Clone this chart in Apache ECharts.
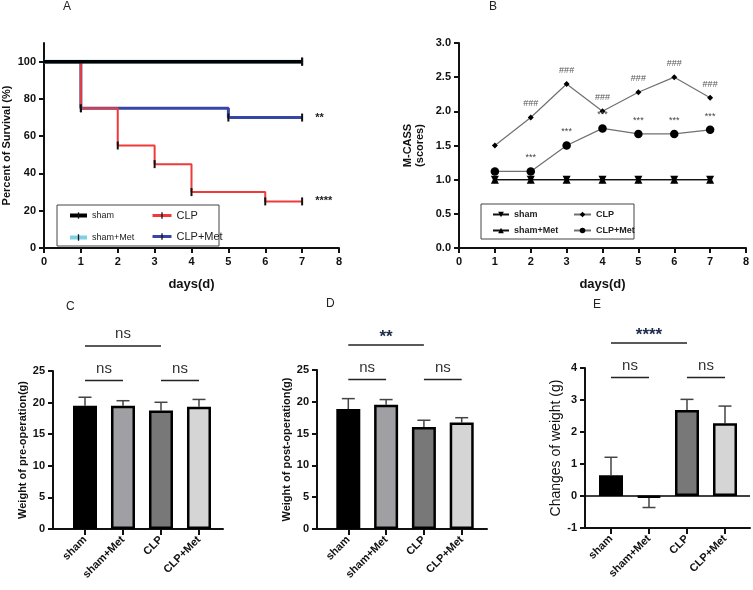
<!DOCTYPE html>
<html><head><meta charset="utf-8">
<script src="https://cdn.jsdelivr.net/npm/echarts@6/dist/echarts.min.js"></script>
<style>html,body{margin:0;padding:0;background:#fff}#c{width:753px;height:590px}</style>
</head><body><div id="c"></div>
<script>
const FONT = '"Liberation Sans", Arial, Helvetica, sans-serif';

// ---------- Panel A: survival ----------
const survShamX = [0, 7],            survShamY = [100, 100];
const survShamMetX = [0, 7],         survShamMetY = [100, 100];
const survClpX = [0, 1, 2, 3, 4, 6, 7], survClpY = [100, 75, 55, 45, 30, 25, 25];
const survClpMetX = [0, 1, 5, 7],    survClpMetY = [100, 75, 70, 70];
const survYTicks = [0, 20, 40, 60, 80, 100];
const survSigClp = '****', survSigClpMet = '**';

// ---------- Panel B: M-CASS ----------
const scoreDays = [1, 2, 3, 4, 5, 6, 7];
const scoreSham = [1, 1, 1, 1, 1, 1, 1];
const scoreShamMet = [1, 1, 1, 1, 1, 1, 1];
const scoreClp = [1.5, 1.91, 2.4, 2.0, 2.28, 2.5, 2.2];
const scoreClpMet = [1.12, 1.12, 1.5, 1.75, 1.67, 1.67, 1.73];
const scoreClpMarks = ['', '###', '###', '###', '###', '###', '###'];
const scoreClpMetMarks = ['', '***', '***', '***', '***', '***', '***'];

// ---------- Panels C-E: weights ----------
const groups = ['sham', 'sham+Met', 'CLP', 'CLP+Met'];
const preMean = [19.5, 19.5, 18.75, 19.35], preSD = [1.35, 0.8, 1.3, 1.15];
const postMean = [18.85, 19.55, 16.05, 16.75], postSD = [1.65, 0.8, 1.05, 0.75];
const changeMean = [0.65, -0.04, 2.69, 2.27], changeSD = [0.56, 0.32, 0.33, 0.54];
// [fromGroup, toGroup, level(1 = upper), text]
const preSig = [[0, 2, 1, 'ns'], [0, 1, 0, 'ns'], [2, 3, 0, 'ns']];
const postSig = [[0, 2, 1, '**'], [0, 1, 0, 'ns'], [2, 3, 0, 'ns']];
const changeSig = [[0, 2, 1, '****'], [0, 1, 0, 'ns'], [2, 3, 0, 'ns']];

const barColors = ['#000000', '#a0a0a4', '#787878', '#d5d5d5'];
// thin vertical censor tick, padded with empty sub-paths so its box is 10x8
const TICK_SYM = 'path://M0,0 L0,0 M4,0 L6,0 L6,8 L4,8 Z M10,8 L10,8';
const TICK_SIZE = [10, 8];

const chart = echarts.init(document.getElementById('c'), null, {renderer: 'canvas'});

function axisBase(extra) {
  return Object.assign({
    axisLine: {onZero: false, lineStyle: {color: '#111', width: 2}},
    axisTick: {lineStyle: {color: '#111', width: 2}, length: 5},
    axisLabel: {color: '#111', fontWeight: 'bold', fontSize: 11, fontFamily: FONT, margin: 8},
    splitLine: {show: false},
    nameTextStyle: {color: '#111', fontWeight: 'bold', fontSize: 11, fontFamily: FONT}
  }, extra);
}

function stepData(xs, ys) {
  return xs.map((x, i) => ({value: [x, ys[i]], symbol: i === 0 ? 'none' : TICK_SYM}));
}

function errRender(params, api) {
  const x = api.value(0), v = api.value(1), sd = api.value(2);
  const end = v + (v < 0 ? -sd : sd);
  const p0 = api.coord([x, v]), p1 = api.coord([x, end]);
  const half = 6.5;
  const st = {stroke: '#444', lineWidth: 1.5};
  return {type: 'group', children: [
    {type: 'line', shape: {x1: p0[0], y1: p0[1], x2: p1[0], y2: p1[1]}, style: st},
    {type: 'line', shape: {x1: p1[0] - half, y1: p1[1], x2: p1[0] + half, y2: p1[1]}, style: st}
  ]};
}

function sigRenderFactory(sig) {
  return function (params, api) {
    const b = sig[params.dataIndex];
    const a = api.coord([b[0], 0]), c = api.coord([b[1], 0]);
    const top = params.coordSys.y;
    const y = b[2] === 1 ? top - 25 : top + 9.5;
    const isStar = b[3].indexOf('*') >= 0;
    return {type: 'group', children: [
      {type: 'line', shape: {x1: a[0], y1: y, x2: c[0], y2: y}, style: {stroke: '#222', lineWidth: 1.5}},
      {type: 'text', style: {text: b[3], x: (a[0] + c[0]) / 2, y: isStar ? y - 8 : y - 12,
        align: 'center', verticalAlign: 'middle', fontSize: isStar ? 17 : 15,
        fontWeight: isStar ? 'bold' : 'normal', fontFamily: FONT, fill: isStar ? '#1c2a4a' : '#333'}}
    ]};
  };
}

function barPanel(idx, mean, sd, sig) {
  return [
    {type: 'custom', name: 'err' + idx, xAxisIndex: idx, yAxisIndex: idx, z: 1, clip: false,
      data: mean.map((m, i) => [i, m, sd[i]]), renderItem: errRender, encode: {x: 0, y: 1}, silent: true},
    {type: 'bar', name: 'bar' + idx, xAxisIndex: idx, yAxisIndex: idx, z: 2, barWidth: 24,
      data: mean.map((m, i) => ({value: [i, m], itemStyle: {color: barColors[i]}})),
      itemStyle: {borderColor: '#000', borderWidth: 2.5}, silent: true,
      markLine: idx === 4 ? {silent: true, symbol: 'none', label: {show: false},
        lineStyle: {color: '#000', width: 1.5, type: 'solid'}, data: [{yAxis: 0}]} : undefined},
    {type: 'custom', name: 'sig' + idx, xAxisIndex: idx, yAxisIndex: idx, z: 5, clip: false,
      data: sig.map(b => [b[0], 0]), renderItem: sigRenderFactory(sig), encode: {x: 0, y: 1}, silent: true}
  ];
}

const catTicks = [0, 1, 2, 3];
function catXAxis(idx, min, max) {
  return axisBase({
    type: 'value', gridIndex: idx, min: min, max: max,
    axisTick: {customValues: catTicks, lineStyle: {color: '#111', width: 2}, length: 6},
    axisLabel: {customValues: catTicks, formatter: v => groups[Math.round(v)] || '', rotate: 45,
      color: '#111', fontWeight: 'bold', fontSize: 11, fontFamily: FONT, margin: 9}
  });
}

const legendFmt = n => n.replace(/^[AB]:/, '');

const option = {
  backgroundColor: '#fff',
  animation: false,
  textStyle: {fontFamily: FONT},
  grid: [
    {left: 44, top: 43, width: 295, height: 205},
    {left: 459, top: 43, width: 287, height: 205},
    {left: 53, top: 371, width: 170, height: 158},
    {left: 317, top: 370, width: 170, height: 159},
    {left: 585, top: 368, width: 165, height: 160}
  ],
  xAxis: [
    axisBase({type: 'value', gridIndex: 0, min: 0, max: 8, interval: 1, name: 'days(d)',
      nameLocation: 'middle', nameGap: 30,
      nameTextStyle: {color: '#111', fontWeight: 'bold', fontSize: 13, fontFamily: FONT}}),
    axisBase({type: 'value', gridIndex: 1, min: 0, max: 8, interval: 1, name: 'days(d)',
      nameLocation: 'middle', nameGap: 30,
      nameTextStyle: {color: '#111', fontWeight: 'bold', fontSize: 13, fontFamily: FONT}}),
    catXAxis(2, -0.842, 3.632),
    catXAxis(3, -0.828, 3.669),
    catXAxis(4, -0.684, 3.658)
  ],
  yAxis: [
    axisBase({type: 'value', gridIndex: 0, min: 0, max: 110,
      axisTick: {customValues: survYTicks, lineStyle: {color: '#111', width: 2}, length: 5},
      axisLabel: {customValues: survYTicks, color: '#111', fontWeight: 'bold', fontSize: 11, fontFamily: FONT, margin: 8},
      name: 'Percent of Survival (%)', nameLocation: 'middle', nameGap: 32}),
    axisBase({type: 'value', gridIndex: 1, min: 0, max: 3, interval: 0.5,
      axisLabel: {formatter: v => v.toFixed(1), color: '#111', fontWeight: 'bold', fontSize: 11, fontFamily: FONT, margin: 8},
      name: 'M-CASS\n(scores)', nameLocation: 'middle', nameGap: 33,
      nameTextStyle: {color: '#111', fontWeight: 'bold', fontSize: 11, lineHeight: 12, fontFamily: FONT}}),
    axisBase({type: 'value', gridIndex: 2, min: 0, max: 25, interval: 5,
      name: 'Weight of pre-operation(g)', nameLocation: 'middle', nameGap: 22}),
    axisBase({type: 'value', gridIndex: 3, min: 0, max: 25, interval: 5,
      name: 'Weight of post-operation(g)', nameLocation: 'middle', nameGap: 22}),
    axisBase({type: 'value', gridIndex: 4, min: -1, max: 4, interval: 1,
      name: 'Changes of weight (g)', nameLocation: 'middle', nameGap: 21,
      nameTextStyle: {color: '#111', fontWeight: 'normal', fontSize: 14, fontFamily: FONT}})
  ],
  legend: [
    {left: 63, top: 206, orient: 'vertical', itemGap: 13, itemWidth: 17, itemHeight: 8,
      selectedMode: false, formatter: legendFmt, data: ['A:sham', 'A:sham+Met'],
      lineStyle: {width: 4},
      textStyle: {fontSize: 9, color: '#222', fontFamily: FONT}},
    {left: 146, top: 205, orient: 'vertical', itemGap: 10, itemWidth: 19, itemHeight: 8,
      selectedMode: false, formatter: legendFmt, data: ['A:CLP', 'A:CLP+Met'],
      lineStyle: {width: 3},
      textStyle: {fontSize: 11, color: '#222', fontFamily: FONT}},
    {left: 487, top: 205, orient: 'vertical', itemGap: 7, itemWidth: 16, itemHeight: 7,
      selectedMode: false, formatter: legendFmt, data: ['B:sham', 'B:sham+Met'],
      textStyle: {fontSize: 9, fontWeight: 'bold', color: '#222', fontFamily: FONT}},
    {left: 568, top: 205, orient: 'vertical', itemGap: 7, itemWidth: 17, itemHeight: 7,
      selectedMode: false, formatter: legendFmt, data: ['B:CLP', 'B:CLP+Met'],
      textStyle: {fontSize: 9, fontWeight: 'bold', color: '#222', fontFamily: FONT}}
  ],
  graphic: [
    {type: 'rect', shape: {x: 57, y: 205, width: 162, height: 41}, style: {fill: 'none', stroke: '#444', lineWidth: 1}, z: 0},
    {type: 'rect', shape: {x: 481, y: 204, width: 153, height: 35}, style: {fill: 'none', stroke: '#444', lineWidth: 1}, z: 0},
    {type: 'text', x: 63, y: 1, style: {text: 'A', fontSize: 12, fill: '#222', fontFamily: FONT}},
    {type: 'text', x: 489, y: 1, style: {text: 'B', fontSize: 12, fill: '#222', fontFamily: FONT}},
    {type: 'text', x: 66, y: 301, style: {text: 'C', fontSize: 12, fill: '#222', fontFamily: FONT}},
    {type: 'text', x: 326, y: 298, style: {text: 'D', fontSize: 12, fill: '#222', fontFamily: FONT}},
    {type: 'text', x: 593, y: 299, style: {text: 'E', fontSize: 12, fill: '#222', fontFamily: FONT}}
  ],
  series: [
    // Panel A
    {type: 'line', name: 'A:sham+Met', xAxisIndex: 0, yAxisIndex: 0, step: 'end', z: 2,
      data: stepData(survShamMetX, survShamMetY), symbol: TICK_SYM, symbolSize: TICK_SIZE, showAllSymbol: true,
      lineStyle: {color: '#7fd0e2', width: 4}, itemStyle: {color: '#111'}},
    {type: 'line', name: 'A:CLP+Met', xAxisIndex: 0, yAxisIndex: 0, step: 'end', z: 3,
      data: stepData(survClpMetX, survClpMetY).map((d, i, arr) => i === arr.length - 1 ?
        Object.assign(d, {label: {show: true, formatter: survSigClpMet, position: 'right', distance: 8,
          fontWeight: 'bold', fontSize: 11, color: '#222'}}) : d),
      symbol: TICK_SYM, symbolSize: TICK_SIZE, showAllSymbol: true,
      lineStyle: {color: '#3746a6', width: 3}, itemStyle: {color: '#111'}},
    {type: 'line', name: 'A:CLP', xAxisIndex: 0, yAxisIndex: 0, step: 'end', z: 4,
      data: stepData(survClpX, survClpY).map((d, i, arr) => i === arr.length - 1 ?
        Object.assign(d, {label: {show: true, formatter: survSigClp, position: 'right', distance: 8,
          fontWeight: 'bold', fontSize: 11, color: '#222'}}) : d),
      symbol: TICK_SYM, symbolSize: TICK_SIZE, showAllSymbol: true,
      lineStyle: {color: '#f03a3a', width: 2}, itemStyle: {color: '#111'}},
    {type: 'line', name: 'A:sham', xAxisIndex: 0, yAxisIndex: 0, step: 'end', z: 5,
      data: stepData(survShamX, survShamY), symbol: TICK_SYM, symbolSize: TICK_SIZE, showAllSymbol: true,
      lineStyle: {color: '#000', width: 3.5}, itemStyle: {color: '#111'}},
    // Panel B
    {type: 'line', name: 'B:sham', xAxisIndex: 1, yAxisIndex: 1, z: 3,
      data: scoreDays.map((d, i) => [d, scoreSham[i]]), symbol: 'path://M0,0 L10,0 L5,9 Z', symbolSize: 8,
      lineStyle: {color: '#111', width: 1.3}, itemStyle: {color: '#000'}},
    {type: 'line', name: 'B:sham+Met', xAxisIndex: 1, yAxisIndex: 1, z: 3,
      data: scoreDays.map((d, i) => [d, scoreShamMet[i]]), symbol: 'triangle', symbolSize: 8,
      lineStyle: {color: '#111', width: 1.3}, itemStyle: {color: '#000'}},
    {type: 'line', name: 'B:CLP', xAxisIndex: 1, yAxisIndex: 1, z: 3,
      data: scoreDays.map((d, i) => [d, scoreClp[i]]), symbol: 'diamond', symbolSize: 6,
      lineStyle: {color: '#707070', width: 1.2}, itemStyle: {color: '#000'},
      label: {show: true, position: 'top', distance: 6, fontSize: 9, color: '#555', fontFamily: FONT,
        formatter: p => scoreClpMarks[p.dataIndex]}},
    {type: 'line', name: 'B:CLP+Met', xAxisIndex: 1, yAxisIndex: 1, z: 3,
      data: scoreDays.map((d, i) => [d, scoreClpMet[i]]), symbol: 'circle', symbolSize: 8.5,
      lineStyle: {color: '#707070', width: 1.2}, itemStyle: {color: '#000'},
      label: {show: true, position: 'top', distance: 5, fontSize: 9, color: '#444', fontFamily: FONT,
        formatter: p => scoreClpMetMarks[p.dataIndex]}},
    ...barPanel(2, preMean, preSD, preSig),
    ...barPanel(3, postMean, postSD, postSig),
    ...barPanel(4, changeMean, changeSD, changeSig)
  ]
};
chart.setOption(option);
</script></body></html>
